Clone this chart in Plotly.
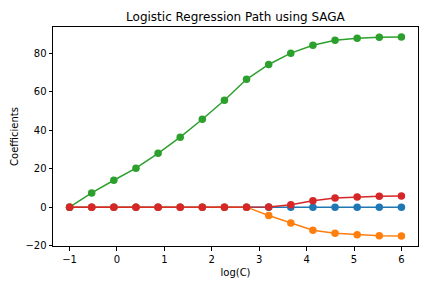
import plotly.graph_objects as go

log_c = [-1.0, -0.5333, -0.0667, 0.4, 0.8667, 1.3333, 1.8, 2.2667, 2.7333, 3.2, 3.6667, 4.1333, 4.6, 5.0667, 5.5333, 6.0]
coef_blue = [0, 0, 0, 0, 0, 0, 0, 0, 0, 0, 0, 0, 0, 0, 0, 0]
coef_orange = [0, 0, 0, 0, 0, 0, 0, 0, 0, -4.3, -8.3, -12.0, -13.6, -14.4, -14.9, -15.0]
coef_green = [0, 7.4, 14.0, 20.3, 28.0, 36.4, 45.7, 55.6, 66.5, 74.2, 80.1, 84.2, 86.8, 87.9, 88.4, 88.5]
coef_red = [0, 0, 0, 0, 0, 0, 0, 0, 0, 0.1, 1.2, 3.3, 4.7, 5.3, 5.7, 5.8]

series = [
    ("coef 0", coef_blue, "#1f77b4"),
    ("coef 1", coef_orange, "#ff7f0e"),
    ("coef 2", coef_green, "#2ca02c"),
    ("coef 3", coef_red, "#d62728"),
]

fig = go.Figure()
for name, vals, col in series:
    fig.add_trace(go.Scatter(
        x=log_c, y=vals, mode="lines+markers", name=name,
        line=dict(color=col, width=1.5),
        marker=dict(color=col, size=7.5, line=dict(width=0)),
    ))

axis_common = dict(
    showgrid=False, zeroline=False, showline=True, linecolor="black", linewidth=1,
    mirror=True, ticks="outside", ticklen=3.5, tickwidth=1, tickcolor="black",
    tickfont=dict(family="DejaVu Sans", size=10, color="black"),
    automargin=False,
)

fig.update_layout(
    width=432, height=288,
    margin=dict(l=53, r=14, t=27, b=42),
    paper_bgcolor="white", plot_bgcolor="white",
    showlegend=False,
    title=dict(text="Logistic Regression Path using SAGA", x=0.545, xanchor="center",
               y=0.94, yanchor="middle", automargin=False,
               font=dict(family="DejaVu Sans", size=12, color="black")),
    font=dict(family="DejaVu Sans", size=10, color="black"),
)
fig.update_xaxes(range=[-1.35, 6.35], tickvals=[-1, 0, 1, 2, 3, 4, 5, 6],
                 title=dict(text="log(C)", standoff=5, font=dict(size=10)), **axis_common)
fig.update_yaxes(range=[-20.2, 93.7], tickvals=[-20, 0, 20, 40, 60, 80],
                 title=dict(text="Coefficients", standoff=4, font=dict(size=10)), **axis_common)

fig.write_html("out.html", config={"displayModeBar": False},
               post_script="document.body.style.margin='0';")
